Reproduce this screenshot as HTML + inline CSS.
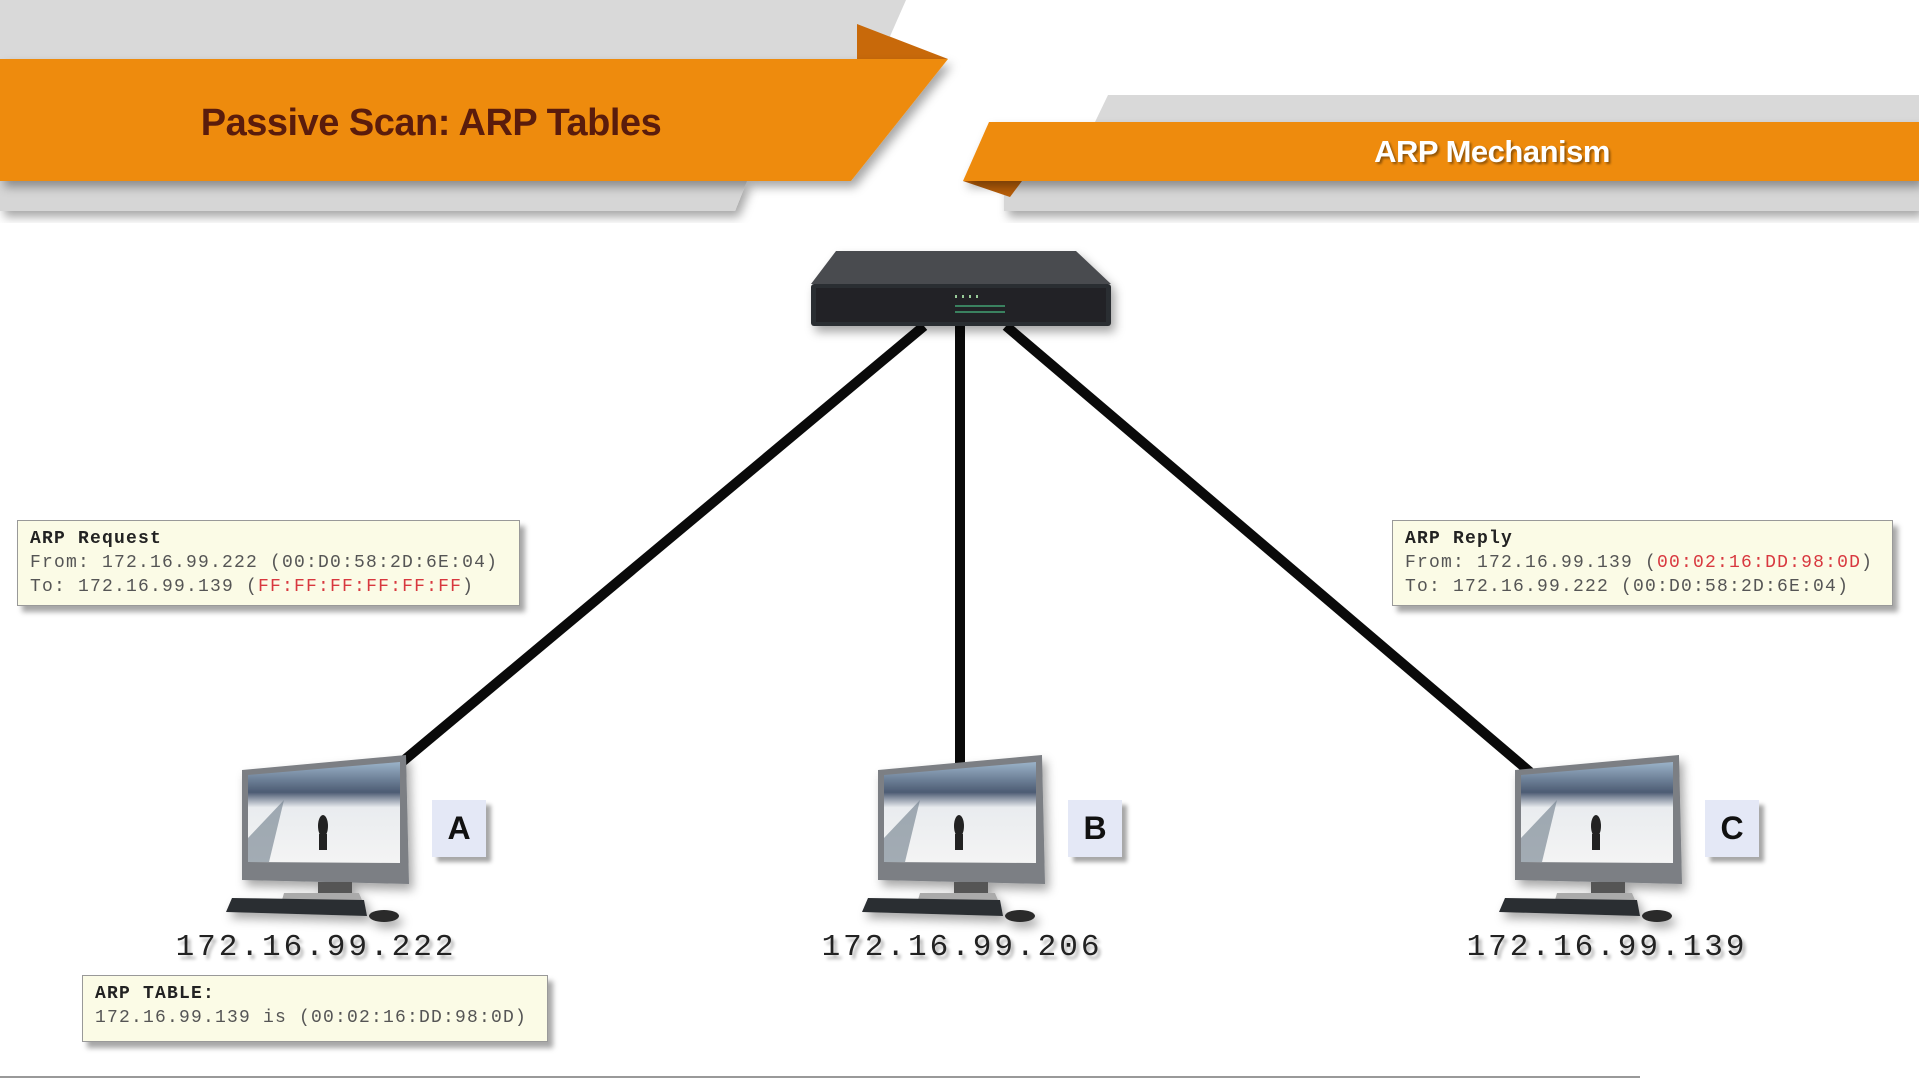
<!DOCTYPE html>
<html><head><meta charset="utf-8"><style>
html,body{margin:0;padding:0;background:#fff;}
body{width:1919px;height:1079px;overflow:hidden;position:relative;}
svg{position:absolute;left:0;top:0;}
.box{position:absolute;background:#fbfbe6;border:1px solid #999;box-shadow:5px 6px 5px rgba(0,0,0,0.35);font-family:"Liberation Mono",monospace;font-size:18px;letter-spacing:1.2px;color:#555;line-height:24px;padding:6px 12px;box-sizing:border-box;white-space:pre;}
.box b{color:#222;}
.red{color:#d8383f;}
.ip{position:absolute;font-family:"Liberation Mono",monospace;font-size:31px;color:#222;text-shadow:3px 4px 3px rgba(0,0,0,0.3);width:340px;text-align:center;letter-spacing:3px;}
.lbl{position:absolute;width:54px;height:57px;background:#e4e8f6;box-shadow:5px 5px 4px rgba(0,0,0,0.35);font-family:"Liberation Sans",sans-serif;font-weight:bold;font-size:32px;color:#111;text-align:center;line-height:57px;}
</style></head><body>
<svg width="1919" height="1079" viewBox="0 0 1919 1079">
<defs>
<filter id="sh" x="-20%" y="-20%" width="140%" height="160%"><feDropShadow dx="4" dy="6" stdDeviation="5" flood-opacity="0.35"/></filter>
<linearGradient id="scr" x1="0" y1="0" x2="0" y2="1">
<stop offset="0" stop-color="#9bb3c9"/><stop offset="0.3" stop-color="#4c5b73"/><stop offset="0.45" stop-color="#e9ecef"/><stop offset="1" stop-color="#f4f4f4"/></linearGradient>
<g id="pc">
<g filter="url(#sh)">
<polygon points="878,770 1042,755 1045,884 878,880" fill="#7b7f84"/>
<polygon points="884,775 1036,762 1036,863 884,862" fill="url(#scr)"/>
<polygon points="884,838 920,800 905,862 884,862" fill="#6d7b88" opacity="0.6"/>
<rect x="954" y="882" width="34" height="14" fill="#555"/>
<polygon points="920,893 995,893 998,900 918,900" fill="#aaa"/>
<polygon points="868,898 1000,900 1003,916 862,912" fill="#2c2f33"/>
<ellipse cx="1020" cy="916" rx="15" ry="6" fill="#2a2a2a"/>
</g>
<ellipse cx="959" cy="826" rx="5" ry="11" fill="#222"/>
<rect x="955" y="834" width="8" height="16" fill="#222"/>
</g>
</defs>
<polygon points="0,0 906,0 880,59 0,59" fill="#d9d9d9"/>
<polygon points="0,181 747,181 735,211 0,211" fill="#d6d6d6" filter="url(#sh)"/>
<polygon points="857,24 948,59 857,59" fill="#c8690a"/>
<polygon points="0,59 948,59 851,181 0,181" fill="#ee8b0e" filter="url(#sh)"/>
<polygon points="1108,95 1919,95 1919,122 1095,122" fill="#d9d9d9"/>
<polygon points="1004,181 1919,181 1919,211 1004,211" fill="#d6d6d6" filter="url(#sh)"/>
<polygon points="963,181 1022,181 1010,197" fill="#b85e08"/>
<polygon points="989,122 1919,122 1919,181 963,181" fill="#ee8b0e" filter="url(#sh)"/>
<text x="431" y="135" text-anchor="middle" font-family="Liberation Sans,sans-serif" font-weight="bold" font-size="38" fill="#5a1c0c" letter-spacing="-0.5">Passive Scan: ARP Tables</text>
<text x="1492" y="162" text-anchor="middle" font-family="Liberation Sans,sans-serif" font-weight="bold" font-size="31" fill="#fff" letter-spacing="-0.5" style="text-shadow:2px 2px 2px rgba(0,0,0,0.4)">ARP Mechanism</text>
<g stroke="#0a0a0a" stroke-width="10" stroke-linecap="butt">
<line x1="924" y1="326" x2="402" y2="762"/>
<line x1="960" y1="326" x2="960" y2="766"/>
<line x1="1006" y1="326" x2="1530" y2="772"/>
</g>
<g filter="url(#sh)">
<polygon points="836,251 1076,251 1111,284 811,284" fill="#4a4c4f"/>
<rect x="811" y="284" width="300" height="42" rx="3" fill="#2b2d30"/>
<rect x="816" y="288" width="290" height="34" fill="#222426"/>
</g>
<g fill="#9c9"><rect x="955" y="295" width="2" height="3"/><rect x="962" y="295" width="2" height="3"/><rect x="969" y="295" width="2" height="3"/><rect x="976" y="295" width="2" height="3"/>
<rect x="955" y="305" width="50" height="2" fill="#4a7" opacity="0.7"/><rect x="955" y="311" width="50" height="2" fill="#4a7" opacity="0.7"/></g>
<use href="#pc" transform="translate(-636,0)"/>
<use href="#pc"/>
<use href="#pc" transform="translate(637,0)"/>
<line x1="0" y1="1077" x2="1640" y2="1077" stroke="#999" stroke-width="2"/>
</svg>
<div class="lbl" style="left:432px;top:800px">A</div>
<div class="lbl" style="left:1068px;top:800px">B</div>
<div class="lbl" style="left:1705px;top:800px">C</div>
<div class="ip" style="left:146px;top:930px">172.16.99.222</div>
<div class="ip" style="left:792px;top:930px">172.16.99.206</div>
<div class="ip" style="left:1437px;top:930px">172.16.99.139</div>
<div class="box" style="left:17px;top:520px;width:503px;height:86px;"><b>ARP Request</b>
From: 172.16.99.222 (00:D0:58:2D:6E:04)
To: 172.16.99.139 (<span class="red">FF:FF:FF:FF:FF:FF</span>)</div>
<div class="box" style="left:1392px;top:520px;width:501px;height:86px;"><b>ARP Reply</b>
From: 172.16.99.139 (<span class="red">00:02:16:DD:98:0D</span>)
To: 172.16.99.222 (00:D0:58:2D:6E:04)</div>
<div class="box" style="left:82px;top:975px;width:466px;height:67px;"><b>ARP TABLE:</b>
172.16.99.139 is (00:02:16:DD:98:0D)</div>
</body></html>
